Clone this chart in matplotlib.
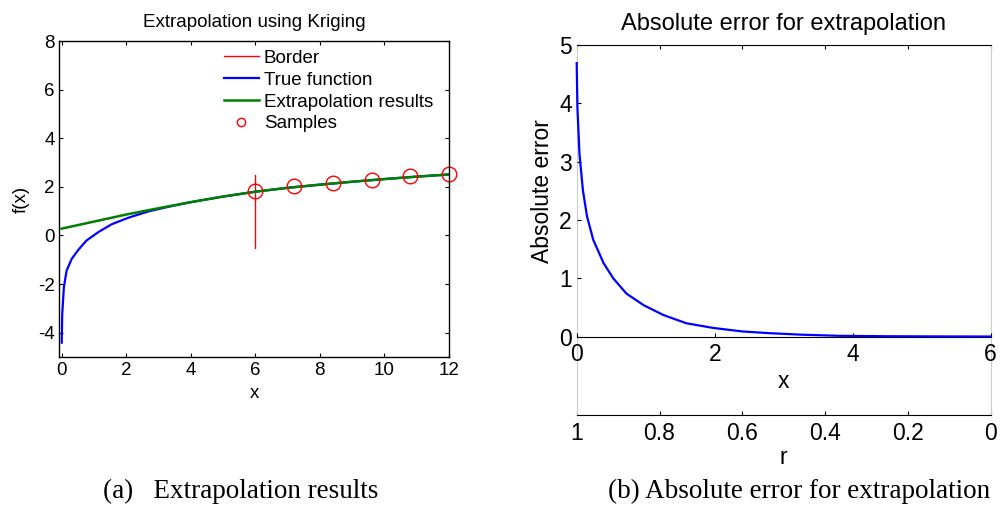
import matplotlib
matplotlib.use("Agg")
import matplotlib.pyplot as plt
from matplotlib.lines import Line2D

plt.rcParams['font.family'] = ['Liberation Sans', 'DejaVu Sans']

# ---- data ----
true_x = [0.005, 0.02, 0.07, 0.155, 0.31, 0.52, 0.77, 1.14, 1.55, 2.07, 2.69, 3.31,
          4, 5, 6, 7, 8, 9, 10, 11, 12]
true_y = [-4.41, -3.24, -2.14, -1.45, -0.97, -0.59, -0.21, 0.14, 0.46, 0.73, 0.99, 1.18,
          1.37, 1.60, 1.80, 1.96, 2.09, 2.21, 2.32, 2.42, 2.51]
extrap_x = [0, 1, 2, 3, 4, 5, 6, 7, 8, 9, 10, 11, 12]
extrap_y = [0.28, 0.57, 0.86, 1.12, 1.37, 1.60, 1.80, 1.96, 2.09, 2.21, 2.32, 2.42, 2.51]
sample_x = [6, 7.2, 8.4, 9.6, 10.8, 12]
sample_y = [1.82, 2.03, 2.17, 2.30, 2.44, 2.54]
border_x = [6, 6]
border_y = [-0.5, 2.5]

err_x = [0, 0.01, 0.04, 0.09, 0.15, 0.24, 0.39, 0.53, 0.72, 0.97, 1.26, 1.59, 1.98,
         2.4, 2.8, 3.25, 3.8, 4.5, 5.2, 6.0]
err_y = [4.69, 3.94, 3.14, 2.51, 2.06, 1.66, 1.26, 1.00, 0.74, 0.54, 0.37, 0.23, 0.15,
         0.09, 0.06, 0.035, 0.015, 0.008, 0.005, 0.003]

left_xticks = [0, 2, 4, 6, 8, 10, 12]
left_yticks = [-4, -2, 0, 2, 4, 6, 8]
right_xticks = [0, 2, 4, 6]
right_yticks = [0, 1, 2, 3, 4, 5]
r_ticks = [1, 0.8, 0.6, 0.4, 0.2, 0]
r_ticklabels = ['1', '0.8', '0.6', '0.4', '0.2', '0']

W, H = 1000, 517
fig = plt.figure(figsize=(W / 100, H / 100), dpi=100)

def frac(l, t, r, b):
    return [l / W, 1 - b / H, (r - l) / W, (b - t) / H]

# ---------------- left panel ----------------
fs_l = 13.5
ax1 = fig.add_axes(frac(59, 41, 449, 357))
ax1.plot(border_x, border_y, color='red', lw=1.0)
ax1.plot(true_x, true_y, color='blue', lw=1.6)
ax1.plot(extrap_x, extrap_y, color=(0, 0.5, 0), lw=1.8)
ax1.plot(sample_x, sample_y, 'o', ms=10.5, mfc='none', mec='red', mew=1.0, clip_on=False)
ax1.set_xlim(-0.08, 12)
ax1.set_ylim(-5, 8)
ax1.set_xticks(left_xticks)
ax1.set_yticks(left_yticks)
ax1.set_yticklabels([str(v) for v in left_yticks])
ax1.tick_params(direction='in', length=3, top=True, right=True, labelsize=fs_l,
                width=0.8)
ax1.tick_params(axis='x', pad=3.5)
ax1.tick_params(axis='y', pad=3)
for s in ax1.spines.values():
    s.set_linewidth(1.0)
ax1.set_title('Extrapolation using Kriging', fontsize=fs_l, pad=10)
ax1.set_xlabel('x', fontsize=fs_l)
ax1.xaxis.set_label_coords(0.5, -0.089)
ax1.set_ylabel('f(x)', fontsize=fs_l)
ax1.yaxis.set_label_coords(-0.074, 0.5)

handles = [Line2D([], [], color='red', lw=1.0),
           Line2D([], [], color='blue', lw=1.6),
           Line2D([], [], color=(0, 0.5, 0), lw=1.8),
           Line2D([], [], ls='none', marker='o', ms=6, mfc='none', mec='red', mew=1.0)]
labels = ['Border', 'True function', 'Extrapolation results', 'Samples']
ax1.legend(handles, labels, loc='upper left', bbox_to_anchor=(0.423, 0.972),
           frameon=False, fontsize=fs_l, borderpad=0, borderaxespad=0,
           handlelength=1.85, handletextpad=0.28, labelspacing=0.25)

# ---------------- right panel ----------------
fs_r = 16.5
gray = '#cccccc'
axr = fig.add_axes(frac(576.7, 45, 990.7, 415))
axr.set_xlim(1, 0)
axr.set_ylim(0, 1)
axr.set_xticks(r_ticks)
axr.set_xticklabels(r_ticklabels)
axr.set_yticks([])
axr.tick_params(axis='x', direction='in', length=3, top=True, labelsize=fs_r, pad=5,
                width=0.8)
axr.spines['left'].set_color(gray)
axr.spines['right'].set_color(gray)
axr.set_xlabel('r', fontsize=fs_r)
axr.xaxis.set_label_coords(0.5, -0.084)

ax2 = fig.add_axes(frac(576.7, 45, 990.7, 336.7))
ax2.patch.set_alpha(0)
ax2.plot(err_x, err_y, color='blue', lw=1.6, clip_on=False, zorder=5)
ax2.set_xlim(0, 6)
ax2.set_ylim(0, 5)
ax2.set_xticks(right_xticks)
ax2.set_yticks(right_yticks)
for side in ['top', 'right', 'left']:
    ax2.spines[side].set_visible(False)
ax2.tick_params(direction='in', length=3, labelsize=fs_r, width=0.8)
ax2.tick_params(axis='x', pad=4.5)
ax2.tick_params(axis='y', pad=3.5)
ax2.set_title('Absolute error for extrapolation', fontsize=17, pad=11)
ax2.set_xlabel('x', fontsize=fs_r)
ax2.xaxis.set_label_coords(0.5, -0.114)
ax2.set_ylabel('Absolute error', fontsize=fs_r)

# ---------------- captions ----------------
fig.text(103 / W, 1 - 491 / H, '(a)   Extrapolation results', fontsize=19.5,
         family='Liberation Serif', ha='left', va='center')
fig.text(608 / W, 1 - 491 / H, '(b) Absolute error for extrapolation', fontsize=19.5,
         family='Liberation Serif', ha='left', va='center')

fig.savefig('out.png', dpi=100)
